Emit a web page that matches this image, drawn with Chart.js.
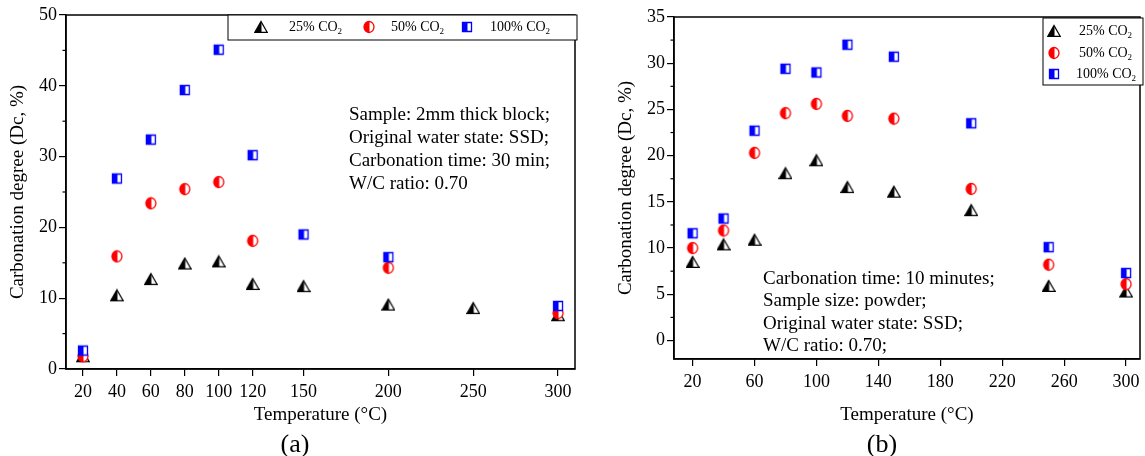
<!DOCTYPE html>
<html>
<head>
<meta charset="utf-8">
<script src="https://cdn.jsdelivr.net/npm/chart.js@4.4.1/dist/chart.umd.min.js"></script>
<style>
  body { margin: 0; background: #fff; }
  #wrap { position: relative; width: 1145px; height: 456px; }
  canvas { position: absolute; top: 0; }
</style>
</head>
<body>
<div id="wrap">
  <canvas id="chartA" width="580" height="456" style="left:0"></canvas>
  <canvas id="chartB" width="565" height="456" style="left:580px"></canvas>
</div>
<script>
// (a) 2mm thick block, 30 min
const tempsA = [20, 40, 60, 80, 100, 120, 150, 200, 250, 300];
const co2_25A = [1.8, 10.4, 12.7, 14.9, 15.2, 12.0, 11.7, 9.1, 8.6, 7.6];
const co2_50A = [1.8, 15.9, 23.4, 25.4, 26.4, 18.1, null, 14.3, null, 7.9];
const co2_100A = [2.6, 26.9, 32.4, 39.4, 45.1, 30.2, 19.0, 15.8, null, 8.9];
const xTicksA = [20, 40, 60, 80, 100, 120, 150, 200, 250, 300];
const yTicksA = [0, 10, 20, 30, 40, 50];

// (b) powder, 10 minutes
const tempsB = [20, 40, 60, 80, 100, 120, 150, 200, 250, 300];
const co2_25B = [8.5, 10.4, 10.9, 18.1, 19.5, 16.6, 16.1, 14.1, 5.9, 5.3];
const co2_50B = [10.0, 11.9, 20.3, 24.6, 25.6, 24.3, 24.0, 16.4, 8.2, 6.1];
const co2_100B = [11.6, 13.2, 22.7, 29.4, 29.0, 32.0, 30.7, 23.5, 10.1, 7.3];
const xTicksB = [20, 60, 100, 140, 180, 220, 260, 300];
const yTicksB = [0, 5, 10, 15, 20, 25, 30, 35];

const seriesNames = ['25% CO', '50% CO', '100% CO'];
const FONT = 'Liberation Serif';

// half filled markers like the Origin plot
function marker(shape, color) {
  const c = document.createElement('canvas');
  c.width = 14; c.height = 14;
  const g = c.getContext('2d');
  const path = () => {
    g.beginPath();
    if (shape === 'triangle') {
      g.moveTo(7, 1.5); g.lineTo(13.2, 12.3); g.lineTo(0.8, 12.3); g.closePath();
    } else if (shape === 'circle') {
      g.ellipse(7, 7, 5, 5.5, 0, 0, Math.PI * 2);
    } else {
      g.rect(2.5, 2.5, 9, 9);
    }
  };
  path(); g.fillStyle = '#fff'; g.fill();
  g.save(); path(); g.clip();
  g.fillStyle = color; g.fillRect(0, 0, 7.5, 14);
  g.restore();
  path(); g.lineWidth = 1.3; g.strokeStyle = color; g.stroke();
  return c;
}
const markers = [marker('triangle', '#000'), marker('circle', '#ff0000'), marker('square', '#0000ff')];

function points(temps, vals) {
  return temps.map((t, i) => ({ x: t, y: vals[i] })).filter(p => p.y !== null);
}

function drawLegendItem(ctx, i, mx, my, tx, size) {
  ctx.drawImage(markers[i], mx - 7, my - 7);
  ctx.fillStyle = '#000';
  ctx.font = size + 'px ' + FONT;
  ctx.textAlign = 'left';
  ctx.textBaseline = 'middle';
  ctx.fillText(seriesNames[i], tx, my);
  const w = ctx.measureText(seriesNames[i]).width;
  ctx.font = Math.round(size * 0.65) + 'px ' + FONT;
  ctx.fillText('2', tx + w, my + 5);
}

const extras = {
  id: 'extras',
  afterDraw(chart, args, opts) {
    const ctx = chart.ctx;
    const a = chart.chartArea;
    const y = chart.scales.y;
    ctx.save();
    // frame
    ctx.strokeStyle = '#000';
    ctx.lineWidth = 1.5;
    ctx.strokeRect(a.left, a.top, a.right - a.left, a.bottom - a.top);
    // minor ticks on y
    ctx.lineWidth = 1.2;
    opts.minorY.forEach(v => {
      const py = y.getPixelForValue(v);
      ctx.beginPath(); ctx.moveTo(a.left - 3.5, py); ctx.lineTo(a.left, py); ctx.stroke();
    });
    // legend
    const lb = opts.legend;
    ctx.fillStyle = '#fff';
    ctx.fillRect(lb.x, lb.y, lb.w, lb.h);
    ctx.lineWidth = 1;
    ctx.strokeRect(lb.x, lb.y, lb.w, lb.h);
    lb.items.forEach((it, i) => drawLegendItem(ctx, i, it[0], it[1], it[2], lb.size));
    // note text
    ctx.fillStyle = '#000';
    ctx.font = opts.noteSize + 'px ' + FONT;
    ctx.textAlign = 'left';
    ctx.textBaseline = 'middle';
    opts.note.forEach((line, i) => ctx.fillText(line, opts.noteX, opts.noteY + i * opts.noteGap));
    // caption
    ctx.font = '26px ' + FONT;
    ctx.textAlign = 'center';
    ctx.fillText(opts.caption, opts.capX, 445);
    ctx.restore();
  }
};

function makeChart(id, d) {
  return new Chart(document.getElementById(id), {
    type: 'scatter',
    data: {
      datasets: [d.s25, d.s50, d.s100].map((vals, i) => ({
        label: seriesNames[i] + '2',
        data: points(d.temps, vals),
        pointStyle: markers[i],
        order: 2 - i
      }))
    },
    options: {
      responsive: false,
      animation: false,
      layout: { padding: { top: d.top, right: d.right, left: 0, bottom: 0 } },
      plugins: {
        legend: { display: false },
        tooltip: { enabled: false },
        extras: d.extras
      },
      scales: {
        x: {
          type: 'linear',
          min: d.xMin, max: d.xMax,
          afterBuildTicks: s => { s.ticks = d.xTicks.map(v => ({ value: v })); },
          afterFit: s => { s.height = 456 - d.bottom; },
          grid: { display: true, drawOnChartArea: false, drawTicks: true, tickLength: 7, color: '#000', lineWidth: 1.2 },
          border: { display: true, color: '#000', width: 1.5 },
          ticks: { color: '#000', font: { family: FONT, size: 18 }, padding: 5, maxRotation: 0, autoSkip: false },
          title: { display: true, text: 'Temperature (°C)', color: '#000', font: { family: FONT, size: 19 }, padding: { top: 0, bottom: 30 } }
        },
        y: {
          type: 'linear',
          min: d.yMin, max: d.yMax,
          afterBuildTicks: s => { s.ticks = d.yTicks.map(v => ({ value: v })); },
          afterFit: s => { s.width = d.left; },
          grid: { display: true, drawOnChartArea: false, drawTicks: true, tickLength: 7, color: '#000', lineWidth: 1.2 },
          border: { display: true, color: '#000', width: 1.5 },
          ticks: { color: '#000', font: { family: FONT, size: 18 }, padding: 2 },
          title: { display: true, text: 'Carbonation degree (Dc, %)', color: '#000', font: { family: FONT, size: 19 }, padding: { top: d.titlePad, bottom: 0 } }
        }
      }
    },
    plugins: [extras]
  });
}

makeChart('chartA', {
  temps: tempsA, s25: co2_25A, s50: co2_50A, s100: co2_100A,
  xTicks: xTicksA, yTicks: yTicksA, xMin: 10, xMax: 310, yMin: 0, yMax: 50,
  top: 15, right: 3, left: 66, bottom: 369, titlePad: 7,
  extras: {
    minorY: [5, 15, 25, 35, 45],
    legend: { x: 228, y: 15, w: 349, h: 25, size: 14,
      items: [[261, 27, 289], [369, 27, 391], [467, 27, 490]] },
    note: ['Sample: 2mm thick block;', 'Original water state: SSD;', 'Carbonation time: 30 min;', 'W/C ratio: 0.70'],
    noteX: 349, noteY: 115, noteGap: 23, noteSize: 19,
    caption: '(a)', capX: 295
  }
});

makeChart('chartB', {
  temps: tempsB, s25: co2_25B, s50: co2_50B, s100: co2_100B,
  xTicks: xTicksB, yTicks: yTicksB, xMin: 8, xMax: 309, yMin: -2, yMax: 35,
  top: 17, right: 2, left: 94, bottom: 359, titlePad: 35,
  extras: {
    minorY: [2.5, 7.5, 12.5, 17.5, 22.5, 27.5, 32.5],
    legend: { x: 463, y: 18, w: 100, h: 67, size: 14,
      items: [[474, 31, 499], [474, 53, 499], [474, 74, 496]] },
    note: ['Carbonation time: 10 minutes;', 'Sample size: powder;', 'Original water state: SSD;', 'W/C ratio: 0.70;'],
    noteX: 183, noteY: 279, noteGap: 22.5, noteSize: 19,
    caption: '(b)', capX: 302
  }
});
</script>
</body>
</html>
